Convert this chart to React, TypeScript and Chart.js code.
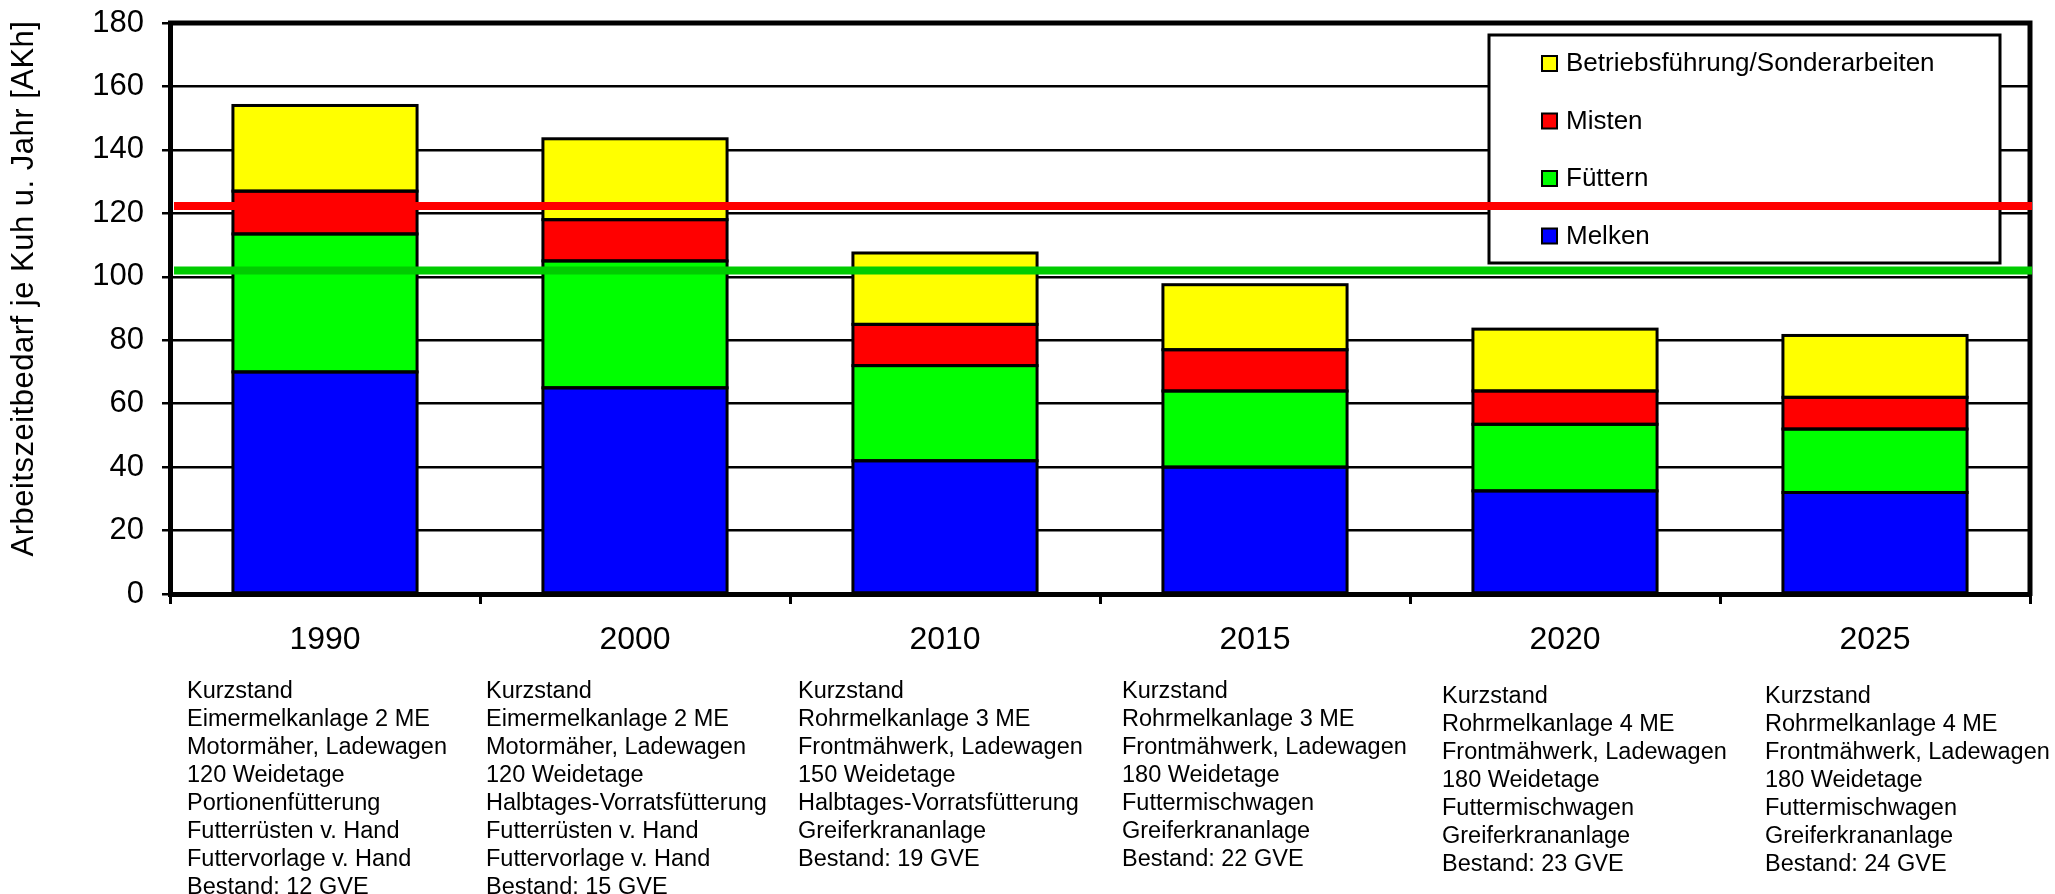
import React, { useEffect, useRef } from 'react';
import { Chart, registerables } from 'chart.js';

Chart.register(...registerables);

// ---------- data ----------
const categories = ['1990', '2000', '2010', '2015', '2020', '2025'];
const melken = [70, 65, 42, 40, 32.5, 32];
const fuettern = [43.5, 40, 30, 24, 21, 20];
const misten = [13.5, 13, 13, 13, 10.5, 10];
const betrieb = [27, 25.5, 22.5, 20.5, 19.5, 19.5];
const seriesLabels = ['Melken', 'Füttern', 'Misten', 'Betriebsführung/Sonderarbeiten'];
const seriesColors = ['#0000FF', '#00FF00', '#FF0000', '#FFFF00'];
const yMin = 0;
const yMax = 180;
const yStep = 20;
const refLineValues = [122.3, 102];
const refLineColors = ['#FF0000', '#00CC00'];
const yTitle = 'Arbeitszeitbedarf je Kuh u. Jahr [AKh]';
const descriptions: string[][] = [
  ['Kurzstand', 'Eimermelkanlage 2 ME', 'Motormäher, Ladewagen', '120 Weidetage', 'Portionenfütterung', 'Futterrüsten v. Hand', 'Futtervorlage v. Hand', 'Bestand: 12 GVE'],
  ['Kurzstand', 'Eimermelkanlage 2 ME', 'Motormäher, Ladewagen', '120 Weidetage', 'Halbtages-Vorratsfütterung', 'Futterrüsten v. Hand', 'Futtervorlage v. Hand', 'Bestand: 15 GVE'],
  ['Kurzstand', 'Rohrmelkanlage 3 ME', 'Frontmähwerk, Ladewagen', '150 Weidetage', 'Halbtages-Vorratsfütterung', 'Greiferkrananlage', 'Bestand: 19 GVE'],
  ['Kurzstand', 'Rohrmelkanlage 3 ME', 'Frontmähwerk, Ladewagen', '180 Weidetage', 'Futtermischwagen', 'Greiferkrananlage', 'Bestand: 22 GVE'],
  ['Kurzstand', 'Rohrmelkanlage 4 ME', 'Frontmähwerk, Ladewagen', '180 Weidetage', 'Futtermischwagen', 'Greiferkrananlage', 'Bestand: 23 GVE'],
  ['Kurzstand', 'Rohrmelkanlage 4 ME', 'Frontmähwerk, Ladewagen', '180 Weidetage', 'Futtermischwagen', 'Greiferkrananlage', 'Bestand: 24 GVE'],
];

// ---------- layout / style ----------
const FONT = '"Liberation Sans", Arial, Helvetica, sans-serif';
const descOffsetX = [-138, -149, -147, -133, -123, -110];
const descOffsetY = [98, 98, 98, 98, 103, 103];
const descLineHeight = 28.0;

const barBorderPlugin = {
  id: 'barBorders',
  afterDatasetsDraw(chart: any) {
    const ctx = chart.ctx as CanvasRenderingContext2D;
    ctx.save();
    ctx.strokeStyle = '#000';
    ctx.lineWidth = 3;
    chart.data.datasets.forEach((_d: any, i: number) => {
      const meta = chart.getDatasetMeta(i);
      meta.data.forEach((el: any) => {
        const p = el.getProps(['x', 'y', 'base', 'width'], true);
        const top = Math.min(p.y, p.base);
        const h = Math.abs(p.base - p.y);
        ctx.strokeRect(p.x - p.width / 2, top, p.width, h);
      });
    });
    ctx.restore();
  },
};

const overlayPlugin = {
  id: 'overlay',
  afterDraw(chart: any) {
    const ctx = chart.ctx as CanvasRenderingContext2D;
    const area = chart.chartArea;
    const xScale = chart.scales.x;
    const yScale = chart.scales.y;
    ctx.save();

    // frame top + right
    ctx.strokeStyle = '#000';
    ctx.lineWidth = 5;
    ctx.beginPath();
    ctx.moveTo(area.left - 2, area.top);
    ctx.lineTo(area.right, area.top);
    ctx.lineTo(area.right, area.bottom + 2);
    ctx.stroke();

    // legend box
    const lx = area.right - 541;
    const ly = area.top + 12;
    const lw = 511;
    const lh = 228;
    ctx.fillStyle = '#fff';
    ctx.fillRect(lx, ly, lw, lh);
    ctx.lineWidth = 3;
    ctx.strokeStyle = '#000';
    ctx.strokeRect(lx, ly, lw, lh);
    ctx.font = '26px ' + FONT;
    ctx.textBaseline = 'middle';
    ctx.textAlign = 'left';
    const ds = chart.data.datasets;
    for (let k = 0; k < ds.length; k++) {
      const d = ds[ds.length - 1 - k];
      const cy = ly + 28 + k * 57.5;
      ctx.fillStyle = d.backgroundColor;
      ctx.fillRect(lx + 53, cy - 7, 15, 15);
      ctx.lineWidth = 2;
      ctx.strokeStyle = '#000';
      ctx.strokeRect(lx + 53, cy - 7, 15, 15);
      ctx.fillStyle = '#000';
      ctx.fillText(d.label, lx + 77, cy + 1);
    }

    // reference lines
    refLineValues.forEach((v, i) => {
      const py = yScale.getPixelForValue(v);
      ctx.strokeStyle = refLineColors[i];
      ctx.lineWidth = 8;
      ctx.beginPath();
      ctx.moveTo(area.left + 4, py);
      ctx.lineTo(area.right + 2, py);
      ctx.stroke();
    });

    // descriptions
    ctx.fillStyle = '#000';
    ctx.font = '23.5px ' + FONT;
    ctx.textAlign = 'left';
    ctx.textBaseline = 'middle';
    descriptions.forEach((lines, i) => {
      const x0 = xScale.getPixelForValue(i) + descOffsetX[i];
      lines.forEach((t, j) => {
        ctx.fillText(t, x0, area.bottom + descOffsetY[i] + j * descLineHeight);
      });
    });

    // y title
    ctx.save();
    ctx.translate(24, (area.top + area.bottom) / 2 - 20);
    ctx.rotate(-Math.PI / 2);
    ctx.font = '31px ' + FONT;
    (ctx as any).letterSpacing = '0.5px';
    ctx.textAlign = 'center';
    ctx.textBaseline = 'middle';
    ctx.fillStyle = '#000';
    ctx.fillText(yTitle, 0, 0);
    ctx.restore();

    ctx.restore();
  },
};

export default function App() {
  const ref = useRef<HTMLCanvasElement | null>(null);
  useEffect(() => {
    if (!ref.current) return;
    const values = [melken, fuettern, misten, betrieb];
    const chart = new Chart(ref.current, {
      type: 'bar',
      data: {
        labels: categories,
        datasets: values.map((v, i) => ({
          label: seriesLabels[i],
          data: v,
          backgroundColor: seriesColors[i],
          borderWidth: 0,
          categoryPercentage: 1,
          barPercentage: 0.594,
        })),
      },
      options: {
        responsive: false,
        animation: false,
        devicePixelRatio: 1,
        layout: { padding: { top: 23, right: 25, left: 0, bottom: 0 } },
        plugins: { legend: { display: false }, tooltip: { enabled: false } },
        scales: {
          x: {
            stacked: true,
            offset: true,
            afterFit: (s: any) => { s.height = 300; s.paddingLeft = 0; s.paddingRight = 0; },
            grid: { offset: true, drawOnChartArea: false, drawTicks: true, tickLength: 10, lineWidth: 3, color: '#000' },
            border: { display: true, width: 5, color: '#000' },
            ticks: { color: '#000', font: { family: FONT, size: 32 }, padding: 17, maxRotation: 0 },
          },
          y: {
            stacked: true,
            min: yMin,
            max: yMax,
            afterFit: (s: any) => { s.width = 170; s.paddingTop = 0; s.paddingBottom = 0; },
            grid: { color: '#000', lineWidth: 2.5, drawTicks: true, tickLength: 8 },
            border: { display: true, width: 5, color: '#000' },
            ticks: { stepSize: yStep, color: '#000', font: { family: FONT, size: 31 }, padding: 18 },
          },
        },
      },
      plugins: [barBorderPlugin, overlayPlugin],
    });
    return () => chart.destroy();
  }, []);
  return (
    <div style={{ position: 'absolute', left: 0, top: 0, width: 2055, height: 894, background: '#fff' }}>
      <canvas ref={ref} width={2055} height={894} />
    </div>
  );
}
